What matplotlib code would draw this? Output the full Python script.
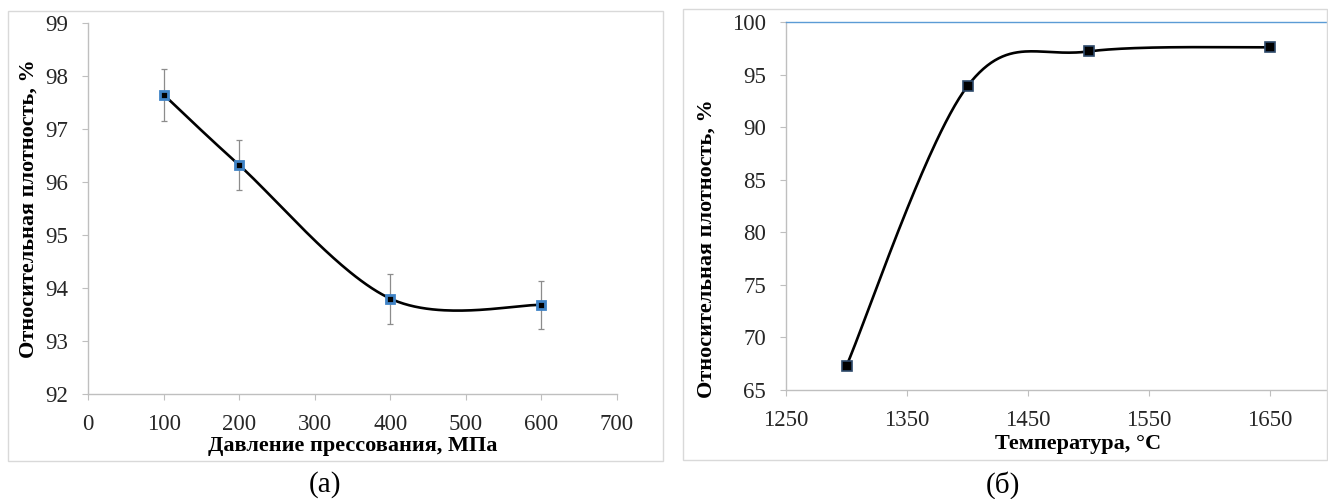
import matplotlib

matplotlib.use("Agg")
import matplotlib.pyplot as plt  # noqa: E402
import numpy as np  # noqa: E402
from matplotlib.patches import Rectangle  # noqa: E402

# (a) density vs pressing pressure
pressure = [100, 200, 400, 600]
density_a = [97.65, 96.32, 93.80, 93.68]
err_a = [0.49, 0.48, 0.47, 0.46]

# (б) density vs temperature
temperature = [1300, 1400, 1500, 1650]
density_b = [67.3, 93.9, 97.2, 97.6]

xticks_a = [0, 100, 200, 300, 400, 500, 600, 700]
yticks_a = [92, 93, 94, 95, 96, 97, 98, 99]
xticks_b = [1250, 1350, 1450, 1550, 1650]
yticks_b = [65, 70, 75, 80, 85, 90, 95, 100]

W, H = 1328, 499
plt.rcParams["font.family"] = ["Liberation Serif", "DejaVu Serif"]

SPINE = "#bfbfbf"
TEXT = "#262626"


def smooth(xs, ys, n=60):
    # excel-like smoothed line: cubic bezier through points, catmull-rom tangents
    p = np.column_stack([xs, ys]).astype(float)
    ext = np.vstack([p[0], p, p[-1]])
    out = []
    t = np.linspace(0, 1, n)[:, None]
    for i in range(len(p) - 1):
        p0, p3 = ext[i + 1], ext[i + 2]
        c1 = p0 + (ext[i + 2] - ext[i]) / 6
        c2 = p3 - (ext[i + 3] - ext[i + 1]) / 6
        seg = ((1 - t) ** 3) * p0 + 3 * ((1 - t) ** 2) * t * c1 + 3 * (1 - t) * t**2 * c2 + t**3 * p3
        out.append(seg)
    out = np.vstack(out)
    return out[:, 0], out[:, 1]


def px_axes(fig, x0, x1, ytop, ybot):
    return fig.add_axes([x0 / W, (H - ybot) / H, (x1 - x0) / W, (ybot - ytop) / H])


def style(ax):
    for s in ("left", "bottom"):
        ax.spines[s].set_color(SPINE)
        ax.spines[s].set_linewidth(1.0)
    ax.spines["right"].set_visible(False)
    ax.tick_params(direction="out", length=4.5, width=0.8, color=SPINE,
                   labelsize=16.5, labelcolor=TEXT, pad=10)


fig = plt.figure(figsize=(W / 100, H / 100), dpi=100)

# frames around both panels
fig.patches.append(Rectangle((8 / W, (H - 461) / H), 655 / W, 450 / H, transform=fig.transFigure,
                             fill=False, edgecolor="#d9d9d9", linewidth=1.0, zorder=10))
fig.patches.append(Rectangle((683 / W, (H - 460) / H), 644 / W, 451 / H, transform=fig.transFigure,
                             fill=False, edgecolor="#d9d9d9", linewidth=1.0, zorder=10))

# --- (a) ---
ax1 = px_axes(fig, 88, 617, 23, 394)
style(ax1)
ax1.spines["top"].set_visible(False)
ax1.set_xlim(0, 700)
ax1.set_ylim(92, 99)
ax1.set_xticks(xticks_a)
ax1.set_yticks(yticks_a)
sx, sy = smooth(pressure, density_a)
ax1.plot(sx, sy, color="black", linewidth=1.9, zorder=3)
ax1.errorbar(pressure, density_a, yerr=err_a, fmt="none", ecolor="#8c8c8c",
             elinewidth=0.9, capsize=2.5, capthick=0.9, zorder=2)
ax1.plot(pressure, density_a, linestyle="none", marker="s", markersize=6,
         markerfacecolor="black", markeredgecolor="#3f83c6", markeredgewidth=2.0, zorder=4)
ax1.set_xlabel("Давление прессования, МПа", fontsize=16, fontweight="bold")
ax1.set_ylabel("Относительная плотность, %", fontsize=16, fontweight="bold")
ax1.xaxis.set_label_coords(0.5, (394 - 436) / 371)
ax1.yaxis.set_label_coords((39 - 88) / 529, 0.5)

# --- (б) ---
ax2 = px_axes(fig, 786, 1391, 22, 390)
style(ax2)
ax2.spines["top"].set_color("#5b9bd5")
ax2.spines["top"].set_linewidth(1.0)
ax2.set_xlim(1250, 1750)
ax2.set_ylim(65, 100)
ax2.set_xticks(xticks_b)
ax2.set_yticks(yticks_b)
sx, sy = smooth(temperature, density_b)
ax2.plot(sx, sy, color="black", linewidth=1.9, zorder=3)
ax2.plot(temperature, density_b, linestyle="none", marker="s", markersize=7,
         markerfacecolor="black", markeredgecolor="#2e4a6b", markeredgewidth=1.2, zorder=4)
ax2.set_xlabel("Температура, °C", fontsize=16, fontweight="bold")
ax2.set_ylabel("Относительная плотность, %", fontsize=16, fontweight="bold")
ax2.xaxis.set_label_coords((1078 - 786) / 605, (390 - 434) / 368)
ax2.yaxis.set_label_coords((717 - 786) / 605, (390 - 249) / 368)

fig.text(325 / W, 1 - 485 / H, "(a)", fontsize=21, ha="center", va="center", color="black")
fig.text(1003 / W, 1 - 485 / H, "(б)", fontsize=21, ha="center", va="center", color="black")

fig.savefig("out.png", dpi=100)
plt.close(fig)
